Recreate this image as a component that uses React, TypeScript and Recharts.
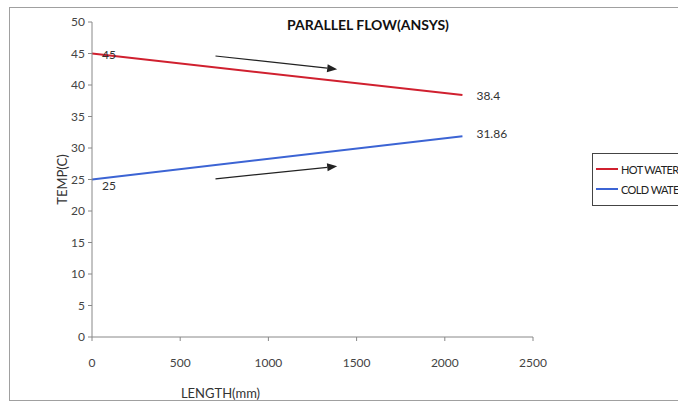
import { LineChart, Line, XAxis, YAxis, ReferenceLine, LabelList } from 'recharts';

const lengths = [0, 2100];
const hotWater = [45, 38.4];
const coldWater = [25, 31.86];
const xTicks = [0, 500, 1000, 1500, 2000, 2500];
const yTicks = [0, 5, 10, 15, 20, 25, 30, 35, 40, 45, 50];
const arrows = [
  { x1: 700, y1: 44.6, x2: 1390, y2: 42.5 },
  { x1: 700, y1: 25.1, x2: 1390, y2: 27.1 },
];

const data = lengths.map((len, i) => ({ len, hot: hotWater[i], cold: coldWater[i] }));

const font = 'Lato, "Open Sans", sans-serif';

function Arrow(props: any) {
  const { x1, y1, x2, y2 } = props;
  const a = Math.atan2(y2 - y1, x2 - x1);
  const len = 10;
  const w = 4;
  const bx = x2 - len * Math.cos(a);
  const by = y2 - len * Math.sin(a);
  const px = -Math.sin(a) * w;
  const py = Math.cos(a) * w;
  return (
    <g>
      <line x1={x1} y1={y1} x2={bx} y2={by} stroke="#222" strokeWidth={1.2} />
      <polygon points={`${x2},${y2} ${bx + px},${by + py} ${bx - px},${by - py}`} fill="#222" />
    </g>
  );
}

function PointLabel(props: any) {
  const { x, y, value, index, dy } = props;
  return (
    <text x={x + (index === 0 ? 10 : 14)} y={y + dy[index]} fontSize={12} fill="#333" fontFamily={font}>
      {value}
    </text>
  );
}

export default function App() {
  return (
    <div style={{ position: 'fixed', left: 0, top: 0, width: 678, height: 401, overflow: 'hidden', background: '#fff', fontFamily: font }}>
      <div style={{ position: 'absolute', left: 9, top: 7, width: 700, height: 392, border: '1px solid #a0a0a0' }} />
      <div style={{ position: 'absolute', left: 0, top: 16, width: 678, textAlign: 'center', paddingLeft: 58, boxSizing: 'border-box', fontWeight: 'bold', fontSize: 14, color: '#111' }}>
        PARALLEL FLOW(ANSYS)
      </div>
      <LineChart
        width={678}
        height={401}
        data={data}
        margin={{ top: 22, right: 145, left: 32, bottom: 34 }}
        style={{ position: 'absolute', left: 0, top: 0 }}
      >
        <XAxis
          dataKey="len"
          type="number"
          domain={[0, 2500]}
          ticks={xTicks}
          stroke="#888"
          tickSize={4}
          tickMargin={17}
          height={30}
          tick={{ fill: '#444', fontSize: 12, fontFamily: font }}
          label={{ value: 'LENGTH(mm)', position: 'insideBottom', offset: -31, dx: -92, fill: '#333', fontSize: 13, fontFamily: font }}
        />
        <YAxis
          type="number"
          domain={[0, 50]}
          ticks={yTicks}
          stroke="#888"
          width={60}
          tickSize={4}
          tickMargin={3}
          tick={{ fill: '#444', fontSize: 12, fontFamily: font }}
          label={{ value: 'TEMP(C)', angle: -90, position: 'insideLeft', offset: 30, fill: '#333', fontSize: 13, fontFamily: font, style: { textAnchor: 'middle' } }}
        />
        {arrows.map((a, i) => (
          <ReferenceLine
            key={i}
            segment={[{ x: a.x1, y: a.y1 }, { x: a.x2, y: a.y2 }]}
            shape={(p: any) => <Arrow x1={p.x1} y1={p.y1} x2={p.x2} y2={p.y2} />}
            ifOverflow="visible"
          />
        ))}
        <Line dataKey="hot" name="HOT WATER" stroke="#d0202f" strokeWidth={2} dot={false} isAnimationActive={false}>
          <LabelList dataKey="hot" content={(p: any) => <PointLabel {...p} dy={[5, 5]} />} />
        </Line>
        <Line dataKey="cold" name="COLD WATER" stroke="#3c64d4" strokeWidth={2} dot={false} isAnimationActive={false}>
          <LabelList dataKey="cold" content={(p: any) => <PointLabel {...p} dy={[10, 2]} />} />
        </Line>
      </LineChart>
      <div style={{ position: 'absolute', left: 592, top: 153, width: 110, border: '1px solid #444', background: '#fff', padding: '5px 0 6px 3px', fontSize: 11, letterSpacing: -0.6, color: '#222' }}>
        <div style={{ display: 'flex', alignItems: 'center', height: 20, whiteSpace: 'nowrap' }}>
          <span style={{ display: 'inline-block', width: 22, height: 2, background: '#d0202f', marginRight: 3 }} />
          HOT WATER
        </div>
        <div style={{ display: 'flex', alignItems: 'center', height: 20, whiteSpace: 'nowrap' }}>
          <span style={{ display: 'inline-block', width: 22, height: 2, background: '#3c64d4', marginRight: 3 }} />
          COLD WATER
        </div>
      </div>
    </div>
  );
}
